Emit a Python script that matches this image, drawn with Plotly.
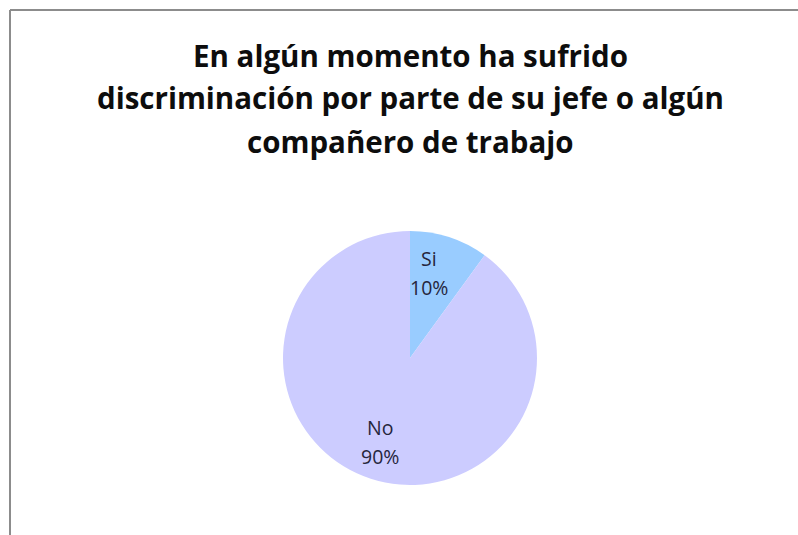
import plotly.graph_objects as go

# Survey answers and their share of responses
labels = ["Si", "No"]
values = [10, 90]
colors = ["#99CCFF", "#CCCCFF"]

title_lines = [
    "En algún momento ha sufrido",
    "discriminación por parte de su jefe o algún",
    "compañero de trabajo",
]

W, H = 798, 535
CX, CY, R = 410, 358, 127  # pie centre and radius in pixels


def px_x(x):
    return x / W


def px_y(y):
    return 1 - y / H


fig = go.Figure(
    go.Pie(
        labels=labels,
        values=values,
        marker=dict(colors=colors, line=dict(width=0)),
        sort=False,
        direction="clockwise",
        rotation=0,
        textinfo="none",
        showlegend=False,
        hoverinfo="label+percent",
        domain=dict(x=[px_x(CX - R), px_x(CX + R)],
                    y=[px_y(CY + R), px_y(CY - R)]),
    )
)

# Slice labels: category name above its percentage
total = sum(values)
label_pos = {"Si": (429, 258), "No": (380, 427)}
for name, val in zip(labels, values):
    lx, ly = label_pos[name]
    for j, txt in enumerate([name, f"{val / total * 100:.0f}%"]):
        fig.add_annotation(
            text=txt, x=px_x(lx), y=px_y(ly + 29 * j),
            xref="paper", yref="paper",
            xanchor="center", yanchor="middle", showarrow=False,
            font=dict(family="Open Sans", size=19.5, color="#26263c"),
        )

# Three-line bold heading
for i, line in enumerate(title_lines):
    fig.add_annotation(
        text=f"<b>{line}</b>",
        x=px_x(410), y=px_y(55 + 43 * i),
        xref="paper", yref="paper",
        xanchor="center", yanchor="middle",
        showarrow=False,
        font=dict(family="Open Sans", size=29.5, color="#0d0d0d"),
    )

# Frame edges along the top and left
fig.add_shape(type="line", xref="paper", yref="paper",
              x0=px_x(10), y0=px_y(10), x1=1, y1=px_y(10),
              line=dict(color="#8c8c8c", width=2))
fig.add_shape(type="line", xref="paper", yref="paper",
              x0=px_x(10), y0=px_y(10), x1=px_x(10), y1=0,
              line=dict(color="#8c8c8c", width=2))

fig.update_layout(
    width=W, height=H,
    margin=dict(l=0, r=0, t=0, b=0),
    paper_bgcolor="white",
    plot_bgcolor="white",
)

fig.write_html("out.html")
